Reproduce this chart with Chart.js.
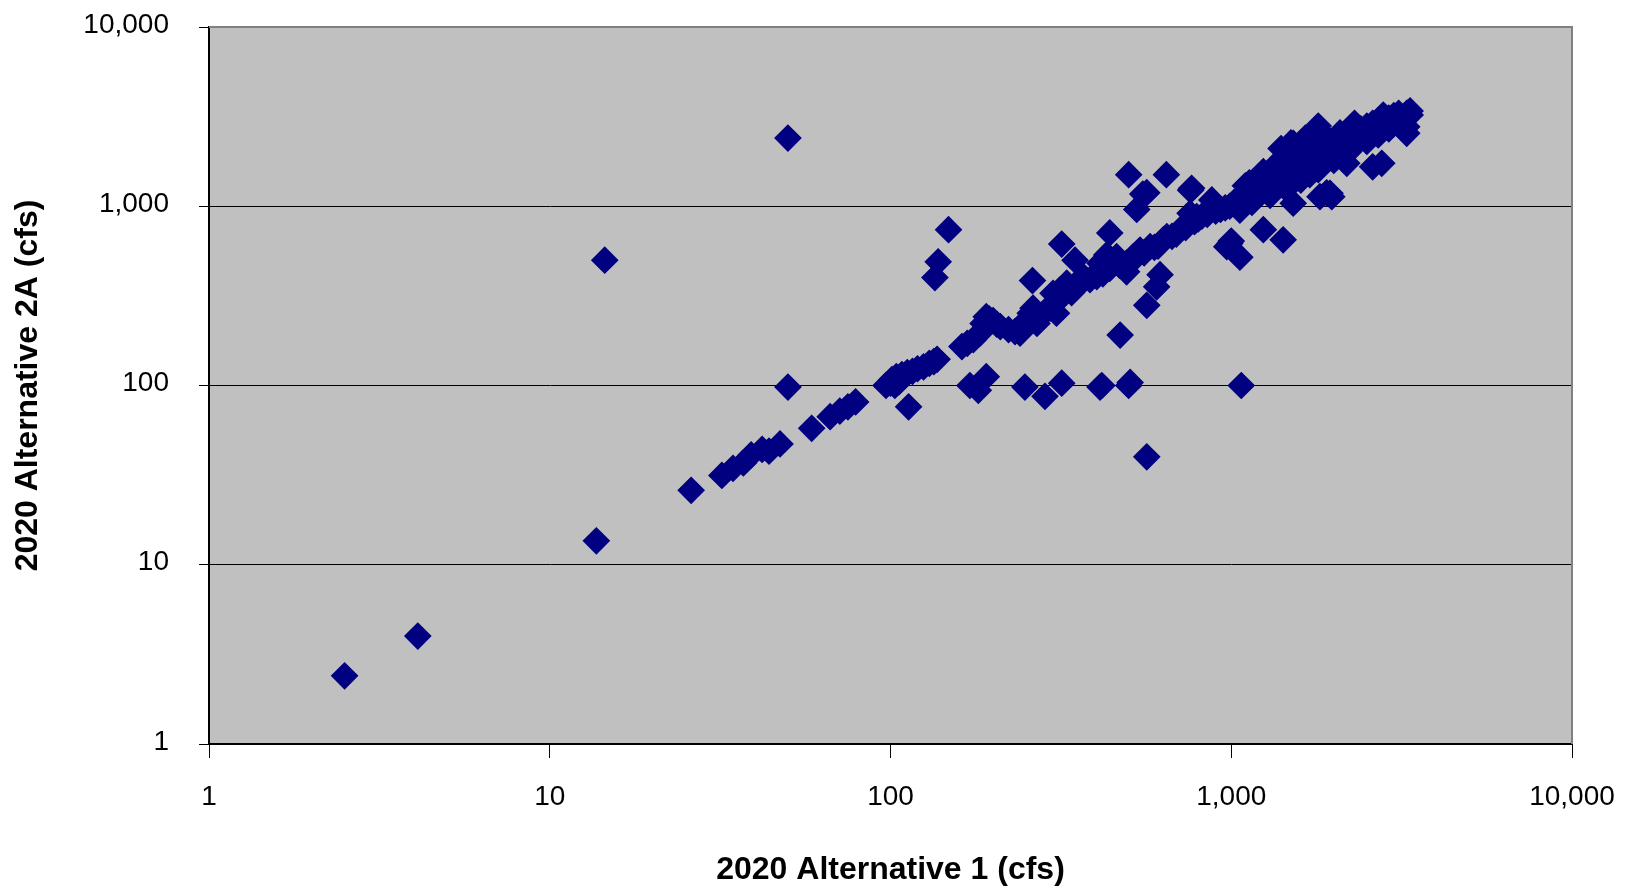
<!DOCTYPE html>
<html>
<head>
<meta charset="utf-8">
<script src="https://cdn.jsdelivr.net/npm/chart.js@4.4.1/dist/chart.umd.min.js"></script>
<style>
html,body{margin:0;padding:0;background:#fff;}
#c{display:block;}
</style>
</head>
<body>
<canvas id="c" width="1625" height="889"></canvas>
<script>
// ---- Data ----
const xTitle = '2020 Alternative 1 (cfs)';
const yTitle = '2020 Alternative 2A (cfs)';
const xTicks = [1, 10, 100, 1000, 10000];
const yTicks = [1, 10, 100, 1000, 10000];

// 2020 Alternative 1 (cfs)
const alt1 = [
  2.5, 4.1, 13.7, 14.5, 50, 50, 26,
  32, 34.5, 37, 39, 42, 44, 47.4,
  58.7, 66.5, 71, 75, 79, 113,
  97, 100, 101, 103, 104, 106, 108, 112, 116, 120, 125, 130, 134, 137,
  148, 138, 135,
  171, 181, 191, 248, 284, 318, 412, 417, 500, 505, 1070, 565, 472,
  500, 645, 565, 550, 528, 318, 348, 440, 261, 431,
  618, 604, 565, 1420, 1060, 990, 970, 1000, 1242,
  162, 168, 175, 183, 187, 191, 195, 200, 205, 210, 222, 232, 240, 250, 257, 262, 269, 275, 285, 294,
  300, 307, 314, 322, 329, 340, 350, 360, 368, 385, 403, 412, 420, 440, 451, 461, 470, 493, 493, 516,
  525, 540, 555, 578, 595, 610, 632, 647, 670, 690, 723, 735, 757, 760, 765, 780, 792, 800, 820, 850,
  877, 900, 930, 960, 990, 1020, 1050, 1080, 1135, 1170, 1200, 1242, 1242, 1242, 1270, 1300, 1350, 1400, 1450, 1520,
  1520, 1521, 1521, 1560, 1600, 1650, 1700, 1750, 1782, 1782, 1797, 1821, 1870, 1949, 1972, 1949, 2000, 2085, 2100, 2183,
  2183, 2233, 2300, 2400, 2500, 2600, 2600, 2700, 2765, 2793, 2900, 3000, 3100, 3273, 3273, 3280, 3349, 3350,
  1100, 1150, 1300, 1350, 1450, 1500, 1600, 1700, 1650, 1800, 1900, 2000, 2200, 2300, 2500, 2700, 2900, 3000, 3200,
  1130, 1060, 1400, 1800, 1905, 1497
];
// 2020 Alternative 2A (cfs)
const alt2A = [
  2.4, 4.0, 13.6, 500, 2400, 98, 26,
  31.5, 34.5, 37, 41, 44, 43, 47.2,
  57.7, 67, 72, 76, 81, 76,
  100, 103, 108, 100, 112, 105, 115, 118, 120, 124, 127, 133, 136, 140,
  740, 490, 400,
  100, 94, 112, 98, 87, 103, 98, 100, 100, 104, 100, 40, 191,
  1500, 1500, 1190, 1170, 960, 615, 500, 710, 385, 535,
  415, 355, 280, 650, 520, 620, 595, 640, 740,
  165, 172, 180, 196, 222, 242, 235, 230, 220, 213, 205, 200, 196, 230, 253, 270, 222, 242, 260, 270,
  327, 253, 341, 320, 372, 330, 350, 372, 405, 390, 405, 481, 420, 450, 481, 523, 470, 481, 431, 523,
  520, 570, 550, 595, 590, 600, 649, 676, 680, 700, 769, 760, 914, 1230, 1260, 820, 875, 850, 880, 900,
  1084, 940, 960, 980, 1000, 1050, 1090, 1120, 1181, 1200, 1250, 1300, 1480, 1560, 1350, 1400, 1450, 1500, 1550, 1040,
  1600, 2244, 2140, 1700, 1800, 1750, 1900, 2000, 2100, 2723, 2662, 1131, 2200, 1180, 1131, 2300, 2250, 2564, 2400, 2500,
  1737, 2061, 2600, 2700, 2800, 1660, 2900, 3000, 1737, 3228, 3100, 3200, 3300, 2553, 2780, 3313, 3400, 3230,
  1300, 1050, 1150, 1700, 1250, 1900, 1400, 1500, 2400, 1600, 2000, 1800, 2000, 2900, 2300, 2500, 2700, 2900, 3000,
  1350, 950, 2100, 2800, 1189, 2254
];

const points = alt1.map((x, i) => ({ x: x, y: alt2A[i] }));

const FONT = '"Liberation Sans", Arial, Helvetica, sans-serif';
const fmt = v => Number(v).toLocaleString('en-US');

const plotFrame = {
  id: 'plotFrame',
  beforeDraw(chart) {
    const a = chart.chartArea, ctx = chart.ctx;
    ctx.save();
    ctx.fillStyle = '#C0C0C0';
    ctx.fillRect(a.left, a.top, a.right - a.left, a.bottom - a.top);
    ctx.restore();
  },
  beforeDatasetsDraw(chart) {
    const a = chart.chartArea, ctx = chart.ctx;
    ctx.save();
    ctx.strokeStyle = '#808080';
    ctx.lineWidth = 2;
    ctx.beginPath();
    ctx.moveTo(a.left, a.top);
    ctx.lineTo(a.right, a.top);
    ctx.lineTo(a.right, a.bottom);
    ctx.stroke();
    ctx.restore();
  }
};

const zeroPad = s => { s.paddingTop = 0; s.paddingBottom = 0; s.paddingLeft = 0; s.paddingRight = 0; };

new Chart(document.getElementById('c'), {
  type: 'scatter',
  data: {
    datasets: [{
      data: points,
      pointStyle: 'rectRot',
      pointRadius: 12.8,
      borderWidth: 1.5,
      backgroundColor: '#000080',
      borderColor: '#000080'
    }]
  },
  options: {
    responsive: false,
    animation: false,
    devicePixelRatio: 1,
    events: [],
    layout: { padding: { left: 0, top: 27, right: 53, bottom: 0 } },
    plugins: { legend: { display: false }, tooltip: { enabled: false } },
    scales: {
      x: {
        type: 'logarithmic',
        min: 1, max: 10000,
        afterBuildTicks: s => { s.ticks = xTicks.map(v => ({ value: v })); },
        afterFit: s => { s.height = 145; zeroPad(s); },
        grid: { drawOnChartArea: false, drawTicks: true, tickLength: 14, tickColor: '#000', tickWidth: 1 },
        border: { display: true, color: '#000', width: 2 },
        ticks: { color: '#000', font: { family: FONT, size: 28 }, padding: 22, maxRotation: 0, autoSkip: false, callback: v => fmt(v) },
        title: { display: true, text: xTitle, color: '#000', font: { family: FONT, size: 32, weight: 'bold' }, padding: { top: 0, bottom: 0 } }
      },
      y: {
        type: 'logarithmic',
        min: 1, max: 10000,
        afterBuildTicks: s => { s.ticks = yTicks.map(v => ({ value: v })); },
        afterFit: s => { s.width = 209; zeroPad(s); },
        grid: { drawOnChartArea: true, color: '#000', lineWidth: 1, drawTicks: true, tickLength: 10, tickColor: '#000', tickWidth: 1 },
        border: { display: true, color: '#000', width: 2 },
        ticks: { color: '#000', font: { family: FONT, size: 28 }, padding: 30, labelOffset: -2, autoSkip: false, callback: v => fmt(v) },
        title: { display: true, text: yTitle, color: '#000', font: { family: FONT, size: 32, weight: 'bold' }, padding: { top: 9, bottom: 0 } }
      }
    }
  },
  plugins: [plotFrame]
});
</script>
</body>
</html>
